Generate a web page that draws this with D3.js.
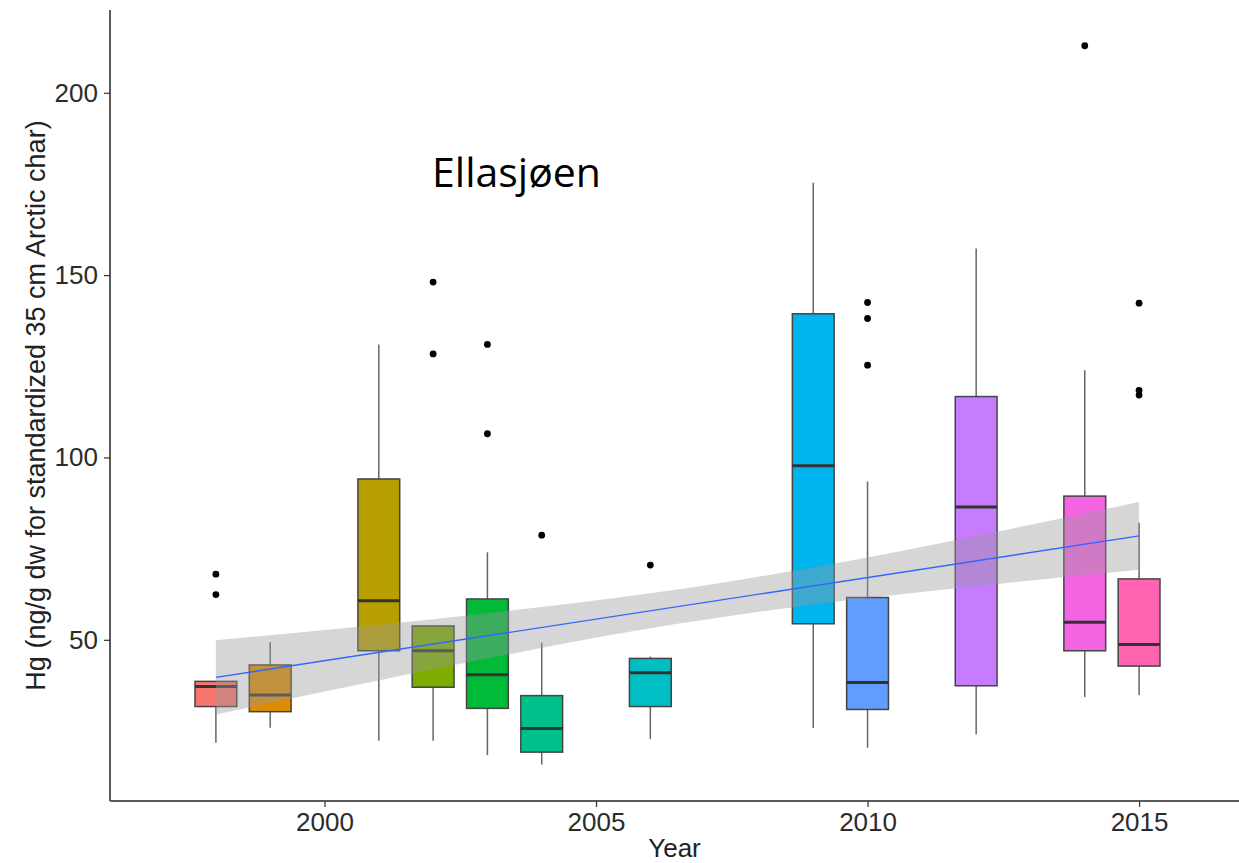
<!DOCTYPE html>
<html>
<head>
<meta charset="utf-8">
<script src="https://cdn.jsdelivr.net/npm/d3@7"></script>
<style>
  html, body { margin: 0; padding: 0; background: #fff; }
  svg { display: block; }
</style>
</head>
<body>
<svg id="chart" width="1239" height="863"></svg>
<script>
// ---- data ----
const years         = [1998, 1999, 2001, 2002, 2003, 2004, 2006, 2009, 2010, 2012, 2014, 2015];
const lowerWhisker  = [21.8, 25.9, 22.3, 22.3, 18.4, 15.8, 22.8, 25.8, 20.4, 24.1, 34.3, 34.9];
const q1            = [31.7, 30.3, 47.0, 37.0, 31.2, 19.2, 31.7, 54.4, 30.9, 37.4, 47.0, 42.8];
const medians       = [37.2, 34.9, 60.7, 47.0, 40.4, 25.7, 41.0, 97.7, 38.3, 86.4, 54.8, 48.7];
const q3            = [38.6, 43.1, 94.1, 53.8, 61.2, 34.7, 44.9, 139.4, 61.6, 116.7, 89.4, 66.7];
const upperWhisker  = [38.6, 49.3, 131.0, 53.8, 74.0, 49.2, 45.4, 175.3, 93.4, 157.3, 123.9, 82.1];
const boxColors     = ["#F8766D", "#DE8C00", "#B79F00", "#7CAE00", "#00BA38", "#00C08B",
                       "#00BFC4", "#00B4F0", "#619CFF", "#C77CFF", "#F564E3", "#FF64B0"];
const outlierYears  = [1998, 1998, 2002, 2002, 2003, 2003, 2004, 2006, 2010, 2010, 2010, 2014, 2015, 2015, 2015];
const outlierValues = [68.0, 62.4, 148.1, 128.4, 131.0, 106.5, 78.7, 70.5, 142.5, 138.1, 125.3, 212.9, 142.3, 118.4, 117.1];
const fitYears      = [1998, 2015];
const fitValues     = [39.7, 78.5];
const bandYears     = [1998, 2000, 2003, 2006, 2007, 2009, 2012, 2015];
const bandLow       = [29.5, 35.8, 44.9, 53.2, 55.5, 59.7, 64.7, 69.2];
const bandHigh      = [49.9, 52.7, 57.3, 62.8, 64.9, 69.9, 78.5, 87.8];
const xTicks        = [2000, 2005, 2010, 2015];
const yTicks        = [50, 100, 150, 200];
const title         = "Ellasjøen";
const xLabel        = "Year";
const yLabel        = "Hg (ng/g dw for standardized 35 cm Arctic char)";

// ---- layout ----
const svg = d3.select("#chart");
const pLeft = 110, pRight = 1239, pTop = 10, pBottom = 801;
const x = d3.scaleLinear().domain([1996.05, 2016.84]).range([pLeft, pRight]);
const y = d3.scaleLinear().domain([5.8, 222.7]).range([pBottom, pTop]);
const boxW = 0.77; // in years

const boxes = years.map((yr, i) => ({
  yr, lo: lowerWhisker[i], q1: q1[i], med: medians[i], q3: q3[i], hi: upperWhisker[i], col: boxColors[i]
}));

const g = svg.append("g");

// whiskers
g.selectAll("line.wlo").data(boxes).join("line")
  .attr("x1", d => x(d.yr)).attr("x2", d => x(d.yr))
  .attr("y1", d => y(d.q1)).attr("y2", d => y(d.lo))
  .attr("stroke", "#666").attr("stroke-width", 1.5);
g.selectAll("line.whi").data(boxes.filter(d => d.hi > d.q3)).join("line")
  .attr("x1", d => x(d.yr)).attr("x2", d => x(d.yr))
  .attr("y1", d => y(d.q3)).attr("y2", d => y(d.hi))
  .attr("stroke", "#666").attr("stroke-width", 1.5);

// boxes
g.selectAll("rect.box").data(boxes).join("rect")
  .attr("x", d => x(d.yr - boxW / 2))
  .attr("width", d => x(d.yr + boxW / 2) - x(d.yr - boxW / 2))
  .attr("y", d => y(d.q3))
  .attr("height", d => y(d.q1) - y(d.q3))
  .attr("fill", d => d.col)
  .attr("stroke", "#444").attr("stroke-width", 1.5);

// medians
g.selectAll("line.med").data(boxes).join("line")
  .attr("x1", d => x(d.yr - boxW / 2)).attr("x2", d => x(d.yr + boxW / 2))
  .attr("y1", d => y(d.med)).attr("y2", d => y(d.med))
  .attr("stroke", "#333333").attr("stroke-width", 3);

// outliers
g.selectAll("circle.out").data(outlierYears.map((yr, i) => ({ yr, v: outlierValues[i] }))).join("circle")
  .attr("cx", d => x(d.yr)).attr("cy", d => y(d.v)).attr("r", 3.4)
  .attr("fill", "#000");

// confidence band
const band = bandYears.map((yr, i) => ({ yr, lo: bandLow[i], hi: bandHigh[i] }));
g.append("path").datum(band)
  .attr("d", d3.area().x(d => x(d.yr)).y0(d => y(d.lo)).y1(d => y(d.hi)).curve(d3.curveMonotoneX))
  .attr("fill", "#999999").attr("fill-opacity", 0.4);

// fit line
g.append("path").datum(fitYears.map((yr, i) => ({ yr, v: fitValues[i] })))
  .attr("d", d3.line().x(d => x(d.yr)).y(d => y(d.v)))
  .attr("fill", "none").attr("stroke", "#3366FF").attr("stroke-width", 1.4);

// axes
const font = "'Liberation Sans', Arial, sans-serif";
const xAxis = svg.append("g").attr("transform", `translate(0,${pBottom})`)
  .call(d3.axisBottom(x).tickValues(xTicks).tickFormat(d3.format("d")).tickSize(6).tickPadding(6));
const yAxis = svg.append("g").attr("transform", `translate(${pLeft},0)`)
  .call(d3.axisLeft(y).tickValues(yTicks).tickSize(6).tickPadding(6));
[xAxis, yAxis].forEach(a => {
  a.select(".domain").attr("stroke", "#5a5a5a").attr("stroke-width", 2);
  a.selectAll(".tick line").attr("stroke", "#333").attr("stroke-width", 1.2);
  a.selectAll(".tick text").attr("fill", "#2b2b2b").style("font-family", font).style("font-size", "26px");
});
xAxis.select(".domain").attr("d", `M${pLeft},0H${pRight}`);
yAxis.select(".domain").attr("d", `M0,${pTop}V${pBottom}`);

svg.append("text")
  .attr("x", (pLeft + pRight) / 2).attr("y", 857)
  .attr("text-anchor", "middle")
  .style("font-family", font).style("font-size", "26px").attr("fill", "#222")
  .text(xLabel);

svg.append("text")
  .attr("transform", `translate(45,${(pTop + pBottom) / 2}) rotate(-90)`)
  .attr("text-anchor", "middle")
  .style("font-family", font).style("font-size", "27px").attr("fill", "#222")
  .text(yLabel);

svg.append("text")
  .attr("x", 432).attr("y", 187)
  .style("font-family", "'Open Sans', 'Noto Sans', sans-serif").style("font-size", "41px").attr("fill", "#000")
  .text(title);
</script>
</body>
</html>
